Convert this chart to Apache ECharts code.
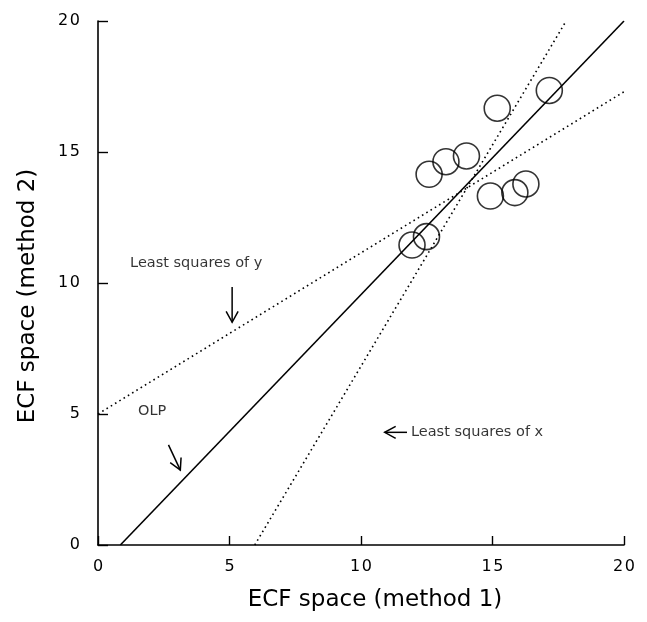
<!DOCTYPE html>
<html>
<head>
<meta charset="utf-8">
<script src="https://cdn.jsdelivr.net/npm/echarts@6/dist/echarts.min.js"></script>
<style>
html,body{margin:0;padding:0;background:#fff;}
#chart{width:647px;height:622px;}
</style>
</head>
<body>
<div id="chart"></div>
<script>
// Data
var xTicks = [0, 5, 10, 15, 20];
var yTicks = [0, 5, 10, 15, 20];
var pointsX = [17.16, 15.18, 12.59, 13.23, 14.01, 14.92, 15.85, 16.27, 12.49, 11.94];
var pointsY = [17.35, 16.67, 14.15, 14.63, 14.85, 13.32, 13.45, 13.78, 11.77, 11.45];
var olpLine = [[0.85, 0], [20, 20]];
var lsyLine = [[0, 5], [20, 17.3]];
var lsxLine = [[5.96, 0], [17.8, 20]];
var labelTexts = ['Least squares of y', 'OLP', 'Least squares of x'];
var labelPos = [[1.22, 10.75], [1.52, 5.1], [11.9, 4.3]];
// arrows: [fromX, fromY, toX, toY]
var arrows = [[5.1, 9.85, 5.1, 8.5], [2.68, 3.82, 3.13, 2.86], [11.75, 4.3, 10.9, 4.3]];

var chart = echarts.init(document.getElementById('chart'), null, {renderer: 'canvas'});
var font = '"DejaVu Sans", "Liberation Sans", Arial, sans-serif';

function lineSeries(data, dotted) {
  return {
    type: 'line', data: data, symbol: 'none', silent: true, clip: true,
    lineStyle: {color: '#000', width: 1.6, type: dotted ? [1.6, 3.4] : 'solid'},
    z: 2
  };
}

function spaced(v) { return String(v).split('').join('\u200A'); }

var option = {
  backgroundColor: '#fff',
  animation: false,
  grid: {left: 98, right: 23, top: 21, bottom: 77},
  xAxis: {
    type: 'value', min: 0, max: 20, interval: 5,
    name: 'ECF space (method 1)', nameLocation: 'middle', nameGap: 44,
    nameTextStyle: {fontFamily: font, fontSize: 23, color: '#000', padding: [0, 0, 0, 28]},
    axisLine: {show: true, lineStyle: {color: '#000', width: 1.6}},
    axisTick: {show: true, inside: true, length: 9, lineStyle: {color: '#000', width: 1.4}},
    axisLabel: {fontFamily: font, fontSize: 16, color: '#000', margin: 14,
      formatter: function (v) { return xTicks.indexOf(v) >= 0 ? spaced(v) : ''; }},
    splitLine: {show: false}
  },
  yAxis: {
    type: 'value', min: 0, max: 20, interval: 5,
    name: 'ECF space (method 2)', nameLocation: 'middle', nameGap: 58, nameRotate: 90,
    nameTextStyle: {fontFamily: font, fontSize: 23, color: '#000', padding: [0, 26, 0, 0]},
    axisLine: {show: true, lineStyle: {color: '#000', width: 1.6}},
    axisTick: {show: true, inside: true, length: 10, lineStyle: {color: '#000', width: 1.4}},
    axisLabel: {fontFamily: font, fontSize: 16, color: '#000', margin: 18,
      formatter: function (v) { return yTicks.indexOf(v) >= 0 ? spaced(v) : ''; }},
    splitLine: {show: false}
  },
  series: [
    lineSeries(olpLine, false),
    lineSeries(lsyLine, true),
    lineSeries(lsxLine, true),
    {
      type: 'scatter', symbol: 'circle', symbolSize: 26, silent: true,
      data: pointsX.map(function (x, i) { return [x, pointsY[i]]; }),
      itemStyle: {color: 'rgba(0,0,0,0)', borderColor: '#000', borderWidth: 1.6},
      z: 3
    },
    {
      type: 'scatter', symbolSize: 0, silent: true,
      data: labelPos.map(function (p, i) { return {value: p, name: labelTexts[i]}; }),
      label: {show: true, position: 'right', distance: 0, formatter: '{b}',
        fontFamily: font, fontSize: 14.5, color: '#000'},
      z: 4
    },
    {
      type: 'custom', silent: true, z: 4,
      data: arrows,
      renderItem: function (params, api) {
        var a = api.coord([api.value(0), api.value(1)]);
        var b = api.coord([api.value(2), api.value(3)]);
        var dx = b[0] - a[0], dy = b[1] - a[1];
        var len = Math.sqrt(dx * dx + dy * dy);
        var ux = dx / len, uy = dy / len;
        var hl = 11, hw = 6;
        var p1 = [b[0] - ux * hl - uy * hw, b[1] - uy * hl + ux * hw];
        var p2 = [b[0] - ux * hl + uy * hw, b[1] - uy * hl - ux * hw];
        var st = {stroke: '#000', lineWidth: 1.5, fill: null};
        return {
          type: 'group',
          children: [
            {type: 'line', shape: {x1: a[0], y1: a[1], x2: b[0], y2: b[1]}, style: st},
            {type: 'polyline', shape: {points: [p1, b, p2]}, style: st}
          ]
        };
      }
    }
  ]
};
chart.setOption(option);
</script>
</body>
</html>
